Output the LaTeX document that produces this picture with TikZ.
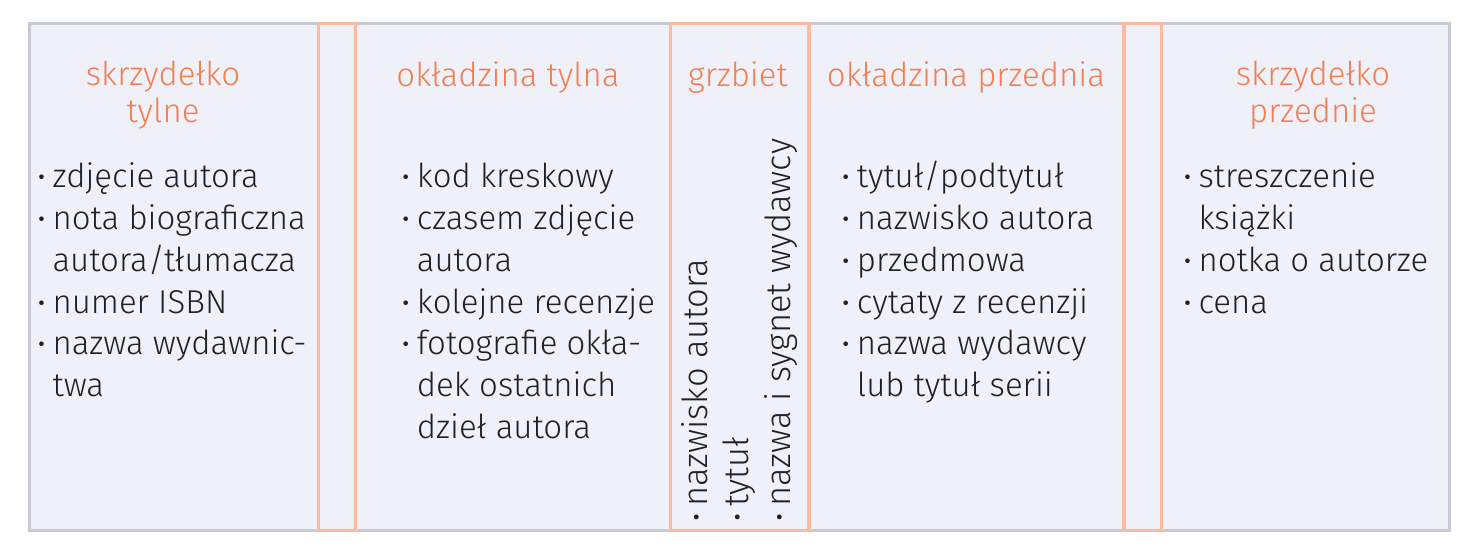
\documentclass[tikz,border=0pt]{standalone}
\usepackage{fontspec}
\setmainfont{Fira Sans Light}
\newfontfamily\bulfont{Fira Sans}
\definecolor{bg}{RGB}{240,241,248}
\definecolor{greyb}{RGB}{200,203,211}
\definecolor{strip}{RGB}{249,187,162}
\definecolor{ttl}{RGB}{240,128,84}
\definecolor{ink}{RGB}{30,33,38}
\newcommand\bul{\llap{\makebox[22pt]{\bulfont ·}}}
\tikzset{
  txt/.style={inner sep=0pt, anchor=base west, text=ink, font=\fontsize{33}{40}\selectfont},
  spinetxt/.style={txt, rotate=90, font=\fontsize{34.5}{40}\selectfont},
  ttlstyle/.style={inner sep=0pt, anchor=base, text=ttl, font=\fontsize{33}{40}\selectfont},
  stripbox/.style={draw=strip, line width=3.3pt, inner sep=0pt, anchor=north west},
}
\begin{document}
\begin{tikzpicture}[x=1pt,y=-1pt]
\useasboundingbox (0,0) rectangle (1476,548);
\fill[white] (0,0) rectangle (1476,548);
\node[draw=greyb, fill=bg, line width=3.3pt, inner sep=0pt, anchor=north west,
      minimum width=1420pt, minimum height=507pt] (frame) at (28,22) {};
\node[stripbox, minimum width=37.3pt, minimum height=507pt] (s1) at (316.7,22) {};
\node[stripbox, minimum width=138.3pt, minimum height=507pt] (s2) at (669,22) {};
\node[stripbox, minimum width=37.7pt, minimum height=507pt] (s3) at (1122.3,22) {};

% titles
\node[ttlstyle] (t1a) at (163,86) {skrzydełko};
\node[ttlstyle] (t1b) at (163,122.5) {tylne};
\node[ttlstyle] (t2) at (508,87) {okładzina tylna};
\node[ttlstyle] (t3) at (738,87) {grzbiet};
\node[ttlstyle] (t4) at (966,87) {okładzina przednia};
\node[ttlstyle] (t5a) at (1313,86) {skrzydełko};
\node[ttlstyle] (t5b) at (1313,122.5) {przednie};

% column 1
\node[txt] (a1) at (52.3,188) {\bul zdjęcie autora};
\node[txt] (a2) at (52.3,229.7) {\bul nota biograficzna};
\node[txt] (a3) at (52.3,271.3) {autora/tłumacza};
\node[txt] (a4) at (52.3,313) {\bul numer ISBN};
\node[txt] (a5) at (52.3,354.7) {\bul nazwa wydawnic-};
\node[txt] (a6) at (52.3,396.3) {twa};

% column 2
\node[txt] (b1) at (416.7,188) {\bul kod kreskowy};
\node[txt] (b2) at (416.7,229.7) {\bul czasem zdjęcie};
\node[txt] (b3) at (416.7,271.3) {autora};
\node[txt] (b4) at (416.7,313) {\bul kolejne recenzje};
\node[txt] (b5) at (416.7,354.7) {\bul fotografie okła-};
\node[txt] (b6) at (416.7,396.3) {dek ostatnich};
\node[txt] (b7) at (416.7,438) {dzieł autora};

% spine
\node[spinetxt] (c1) at (707,507) {\bul nazwisko autora};
\node[spinetxt] (c2) at (748.5,507) {\bul tytuł};
\node[spinetxt] (c3) at (790,507) {\bul nazwa i sygnet wydawcy};

% column 4
\node[txt] (d1) at (856.7,188) {\bul tytuł/podtytuł};
\node[txt] (d2) at (856.7,229.7) {\bul nazwisko autora};
\node[txt] (d3) at (856.7,271.3) {\bul przedmowa};
\node[txt] (d4) at (856.7,313) {\bul cytaty z recenzji};
\node[txt] (d5) at (856.7,354.7) {\bul nazwa wydawcy};
\node[txt] (d6) at (856.7,396.3) {lub tytuł serii};

% column 5
\node[txt] (e1) at (1198.3,188) {\bul streszczenie};
\node[txt] (e2) at (1198.3,229.7) {książki};
\node[txt] (e3) at (1198.3,271.3) {\bul notka o autorze};
\node[txt] (e4) at (1198.3,313) {\bul cena};
\end{tikzpicture}
\end{document}
